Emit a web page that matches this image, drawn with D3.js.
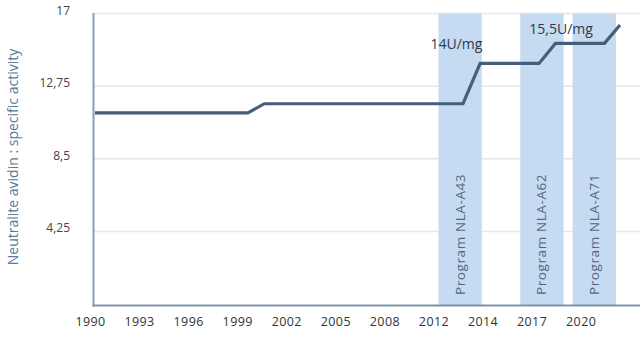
<!DOCTYPE html>
<html>
<head>
<meta charset="utf-8">
<script src="https://cdn.jsdelivr.net/npm/d3@7"></script>
<style>
  html, body { margin: 0; padding: 0; background: #fff; }
  svg { display: block; font-family: "Open Sans", sans-serif; }
</style>
</head>
<body>
<svg id="chart" width="640" height="341"></svg>
<script>
// ---- data ----
const lineYears  = [1990, 1999.35, 2000.35, 2012.5, 2013.55, 2017.15, 2018.15, 2021.15, 2022.1];
const lineValues = [11.18, 11.18, 11.72, 11.72, 14.08, 14.08, 15.25, 15.25, 16.33];

const programNames = ["Program NLA-A43", "Program NLA-A62", "Program NLA-A71"];
const programStart = [2011.0, 2016.0, 2019.2];
const programEnd   = [2013.65, 2018.65, 2021.85];

const annotationTexts  = ["14U/mg", "15,5U/mg"];
const annotationYears  = [2012.1, 2018.5];
const annotationValues = [14.92, 15.8];

const xTickValues = [1990, 1993, 1996, 1999, 2002, 2005, 2008, 2011, 2014, 2017, 2020];
const xTickLabels = ["1990", "1993", "1996", "1999", "2002", "2005", "2008", "2012", "2014", "2017", "2020"];
const yTickValues = [4.25, 8.5, 12.75, 17];
const yTickLabels = ["4,25", "8,5", "12,75", "17"];
const yTitle = "Neutralite avidin : specific activity";

// ---- layout ----
const svg = d3.select("#chart");
const plotLeft = 93.5, plotRight = 640, plotBottom = 305.5, plotTop = 13;

const x = d3.scaleLinear().domain([1990, 2022.1]).range([95, 620]);
const y = d3.scaleLinear().domain([0, 17]).range([304, 13.5]);

// gridlines
svg.append("g").selectAll("line").data(yTickValues).join("line")
  .attr("x1", plotLeft).attr("x2", plotRight)
  .attr("y1", d => y(d)).attr("y2", d => y(d))
  .attr("stroke", "#e6e6e6").attr("stroke-width", 1.5);

// program bands
const bands = svg.append("g");
programNames.forEach((name, i) => {
  bands.append("rect")
    .attr("x", x(programStart[i]))
    .attr("y", plotTop + 0.5)
    .attr("width", x(programEnd[i]) - x(programStart[i]))
    .attr("height", plotBottom - plotTop - 0.5)
    .attr("fill", "#c5dbf1");
  const cx = (x(programStart[i]) + x(programEnd[i])) / 2;
  bands.append("text")
    .attr("transform", `translate(${cx + 4.5},295) rotate(-90)`)
    .attr("text-anchor", "start")
    .attr("font-size", 13.5)
    .attr("letter-spacing", 0.6)
    .attr("fill", "#56677c")
    .text(name);
});

// y axis
const yAxis = d3.axisLeft(y).tickValues(yTickValues)
  .tickFormat((d, i) => yTickLabels[i]).tickSize(0).tickPadding(0);
const gy = svg.append("g").attr("transform", `translate(70,0)`).call(yAxis);
gy.select(".domain").remove();
gy.selectAll("text").attr("font-size", 12).attr("fill", "#444")
  .attr("font-family", "Open Sans, sans-serif").attr("dy", "0.05em");

// x axis
const xAxis = d3.axisBottom(x).tickValues(xTickValues)
  .tickFormat((d, i) => xTickLabels[i]).tickSize(0).tickPadding(0);
const gx = svg.append("g").attr("transform", `translate(0,${plotBottom})`).call(xAxis);
gx.select(".domain").remove();
gx.selectAll("text").attr("font-size", 12.5).attr("fill", "#333")
  .attr("font-family", "Open Sans, sans-serif")
  .attr("letter-spacing", 0.4)
  .attr("dx", -5).attr("y", 12);

// axis lines
svg.append("line").attr("x1", plotLeft).attr("x2", plotLeft)
  .attr("y1", plotTop).attr("y2", plotBottom + 1)
  .attr("stroke", "#8a9db2").attr("stroke-width", 2);
svg.append("line").attr("x1", plotLeft - 1).attr("x2", plotRight)
  .attr("y1", plotBottom).attr("y2", plotBottom)
  .attr("stroke", "#7f93a9").attr("stroke-width", 2);

// line
const pts = lineYears.map((yr, i) => [yr, lineValues[i]]);
svg.append("path")
  .attr("d", d3.line().x(d => x(d[0])).y(d => y(d[1]))(pts))
  .attr("fill", "none").attr("stroke", "#465e78").attr("stroke-width", 3.2)
  .attr("stroke-linejoin", "miter");

// annotations
svg.append("g").selectAll("text").data(annotationTexts).join("text")
  .attr("x", (d, i) => x(annotationYears[i]))
  .attr("y", (d, i) => y(annotationValues[i]))
  .attr("text-anchor", "middle")
  .attr("font-size", 14).attr("font-weight", 500).attr("fill", "#2c3a4c")
  .text(d => d);

// y title
svg.append("text")
  .attr("transform", "translate(18,157) rotate(-90)")
  .attr("text-anchor", "middle")
  .attr("font-size", 14).attr("fill", "#5b7897")
  .text(yTitle);
</script>
</body>
</html>
